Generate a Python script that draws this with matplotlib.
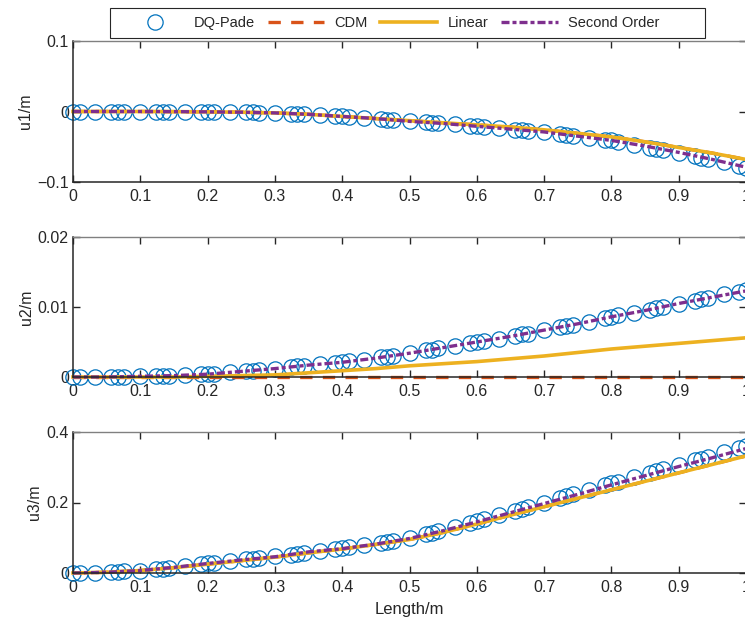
import numpy as np
import matplotlib
matplotlib.use("Agg")
import matplotlib.pyplot as plt
from matplotlib.lines import Line2D
from matplotlib.patches import Rectangle
from matplotlib.ticker import FuncFormatter

plt.rcParams["font.family"] = ["Liberation Sans", "DejaVu Sans"]
plt.rcParams["font.size"] = 11.5

# DQ-Pade nodes (15 elements)
x_dq = [0.000, 0.010, 0.033, 0.057, 0.067, 0.076, 0.100, 0.124, 0.133, 0.143,
        0.167, 0.190, 0.200, 0.210, 0.233, 0.257, 0.267, 0.276, 0.300, 0.324,
        0.333, 0.343, 0.367, 0.390, 0.400, 0.410, 0.433, 0.457, 0.467, 0.476,
        0.500, 0.524, 0.533, 0.543, 0.567, 0.590, 0.600, 0.610, 0.633, 0.657,
        0.667, 0.676, 0.700, 0.724, 0.733, 0.743, 0.767, 0.790, 0.800, 0.810,
        0.833, 0.857, 0.867, 0.876, 0.900, 0.924, 0.933, 0.943, 0.967, 0.990,
        1.000]

u1_dq = [0, 0, 0, 0, 0, 0, 0, -0.0001, -0.0001, -0.0002,
         -0.0003, -0.0004, -0.0005, -0.0006, -0.0008, -0.0011, -0.0013, -0.0015, -0.002, -0.003,
         -0.0033, -0.0036, -0.0048, -0.0064, -0.007, -0.0076, -0.009, -0.0106, -0.0114, -0.0121,
         -0.014, -0.0154, -0.016, -0.0166, -0.0184, -0.0202, -0.021, -0.0218, -0.0236, -0.0256,
         -0.0264, -0.0271, -0.029, -0.0319, -0.033, -0.0342, -0.037, -0.0398, -0.041, -0.0428,
         -0.0469, -0.0513, -0.0531, -0.0547, -0.059, -0.0638, -0.0655, -0.0675, -0.0723, -0.0778,
         -0.080]

u2_dq = [0, 0, 0, 0, 0.00003, 0.00004, 0.0001, 0.00013, 0.00015, 0.00017,
         0.00025, 0.00036, 0.0004, 0.00047, 0.00065, 0.00085, 0.00092, 0.001, 0.0012, 0.00145,
         0.00153, 0.00163, 0.00183, 0.00202, 0.0021, 0.00222, 0.0025, 0.0028, 0.00292, 0.00305,
         0.0034, 0.0038, 0.0039, 0.0041, 0.00447, 0.00485, 0.005, 0.00516, 0.0055, 0.0059,
         0.0061, 0.0062, 0.0067, 0.0071, 0.0073, 0.0074, 0.0079, 0.0084, 0.0086, 0.0088,
         0.0092, 0.0096, 0.0098, 0.0100, 0.0105, 0.0109, 0.0111, 0.0113, 0.0118, 0.0122,
         0.0124]

u3_dq = [0, 0.0001, 0.001, 0.0025, 0.0035, 0.0045, 0.007, 0.011, 0.0125, 0.0145,
         0.0195, 0.0248, 0.027, 0.029, 0.0337, 0.0385, 0.0405, 0.0423, 0.047, 0.0522,
         0.0542, 0.0564, 0.0618, 0.0673, 0.070, 0.0724, 0.0786, 0.0852, 0.0882, 0.0911,
         0.099, 0.1093, 0.1135, 0.1182, 0.1302, 0.1418, 0.147, 0.1522, 0.1643, 0.1770,
         0.1822, 0.187, 0.200, 0.213, 0.2178, 0.2232, 0.2362, 0.2486, 0.254, 0.2592,
         0.2712, 0.2838, 0.289, 0.2939, 0.307, 0.3197, 0.3245, 0.3298, 0.3425, 0.3547,
         0.360]

# line solutions
x_line = [0, 0.05, 0.1, 0.15, 0.2, 0.25, 0.3, 0.35, 0.4, 0.45, 0.5,
          0.55, 0.6, 0.65, 0.7, 0.75, 0.8, 0.85, 0.9, 0.95, 1.0]

u1_cdm = [0, 0, 0, -0.0002, -0.0005, -0.001, -0.002, -0.004, -0.007, -0.010, -0.013,
          -0.016, -0.019, -0.022, -0.026, -0.031, -0.036, -0.043, -0.051, -0.059, -0.068]
u1_linear = [0, 0, 0, -0.0002, -0.0005, -0.001, -0.002, -0.004, -0.007, -0.010, -0.013,
             -0.016, -0.019, -0.022, -0.026, -0.031, -0.036, -0.043, -0.051, -0.059, -0.068]
u1_second = [0, 0, 0, -0.0002, -0.0005, -0.001, -0.002, -0.004, -0.007, -0.010, -0.014,
             -0.017, -0.021, -0.025, -0.029, -0.035, -0.041, -0.049, -0.058, -0.068, -0.079]

u2_cdm = [0, 0, 0, 0, 0, 0, 0, 0, 0, 0, 0,
          0, 0, 0, 0, 0, 0, 0, 0, 0, 0]
u2_linear = [0, 0, 0, 0, 0.0001, 0.0002, 0.0003, 0.0006, 0.0009, 0.0012, 0.0016,
             0.0019, 0.0022, 0.0026, 0.0030, 0.0035, 0.0040, 0.0044, 0.0048, 0.0052, 0.0056]
u2_second = [0, 0, 0.0001, 0.0002, 0.0004, 0.0008, 0.0012, 0.0017, 0.0021, 0.0027, 0.0034,
             0.0042, 0.0050, 0.0058, 0.0067, 0.0076, 0.0086, 0.0095, 0.0105, 0.0114, 0.0123]

u3_cdm = [0, 0.002, 0.007, 0.015, 0.025, 0.035, 0.045, 0.057, 0.068, 0.081, 0.095,
          0.115, 0.139, 0.164, 0.188, 0.212, 0.236, 0.260, 0.284, 0.308, 0.332]
u3_linear = [0, 0.002, 0.007, 0.015, 0.025, 0.035, 0.045, 0.057, 0.068, 0.081, 0.095,
             0.115, 0.139, 0.164, 0.188, 0.212, 0.236, 0.260, 0.284, 0.308, 0.332]
u3_second = [0, 0.002, 0.007, 0.016, 0.027, 0.037, 0.046, 0.060, 0.069, 0.082, 0.098,
             0.120, 0.145, 0.171, 0.197, 0.223, 0.250, 0.276, 0.302, 0.327, 0.353]

ylabels = ["u1/m", "u2/m", "u3/m"]
ylims = [(-0.1, 0.1), (0, 0.02), (0, 0.4)]
yticks = [[-0.1, 0, 0.1], [0, 0.01, 0.02], [0, 0.2, 0.4]]
xticks = [0, 0.1, 0.2, 0.3, 0.4, 0.5, 0.6, 0.7, 0.8, 0.9, 1]

blue = "#0072BD"
orange = "#D95319"
yellow = "#EDB120"
purple = "#7E2F8E"
dark = "#262626"

dq_data = [u1_dq, u2_dq, u3_dq]
cdm_data = [u1_cdm, u2_cdm, u3_cdm]
lin_data = [u1_linear, u2_linear, u3_linear]
sec_data = [u1_second, u2_second, u3_second]

# axes boxes in pixels (left, top, right, bottom)
W, H = 745, 620
boxes = [(73, 41, 746, 182), (73, 237, 746, 377), (73, 432, 746, 573)]

fmt = FuncFormatter(lambda v, p: ("%g" % round(v, 6)).replace("-", "\u2212"))

fig = plt.figure(figsize=(W / 100, H / 100), dpi=100)

for i in range(3):
    l, t, r, b = boxes[i]
    ax = fig.add_axes([l / W, 1 - b / H, (r - l) / W, (b - t) / H])
    ax.plot(x_dq, dq_data[i], "o", mfc="none", mec=blue, ms=11, mew=0.9, clip_on=False)
    ax.plot(x_line, cdm_data[i], color=orange, lw=2.4, dashes=(3.7, 3.1),
            dash_capstyle="butt", clip_on=False)
    ax.plot(x_line, lin_data[i], color=yellow, lw=2.6, clip_on=False)
    ax.plot(x_line, sec_data[i], color=purple, lw=2.4, dashes=(2.4, 0.9, 1.2, 0.9),
            dash_capstyle="butt", clip_on=False)

    ax.set_xlim(0, 1)
    ax.set_ylim(*ylims[i])
    ax.set_xticks(xticks)
    ax.set_yticks(yticks[i])
    ax.xaxis.set_major_formatter(fmt)
    ax.yaxis.set_major_formatter(fmt)
    ax.tick_params(direction="in", length=5, width=1, top=True, right=True,
                   colors=dark, labelsize=11.5)
    ax.tick_params(axis="x", pad=5)
    ax.tick_params(axis="y", pad=3)
    for side in ["top", "right"]:
        ax.spines[side].set_color("#808080")
        ax.spines[side].set_linewidth(1.0)
    for side in ["left", "bottom"]:
        ax.spines[side].set_color(dark)
        ax.spines[side].set_linewidth(1.1)
    ax.set_ylabel(ylabels[i], color=dark, fontsize=11.5, labelpad=3)
    if i == 2:
        ax.set_xlabel("Length/m", color=dark, fontsize=12, labelpad=5)

# legend box, MATLAB style with extra room on the right
fig.patches.append(Rectangle((110 / W, 1 - 38 / H), 595 / W, 30 / H, transform=fig.transFigure,
                             fill=False, ec=dark, lw=0.8))
handles = [
    Line2D([], [], ls="none", marker="o", mfc="none", mec=blue, ms=11, mew=0.9),
    Line2D([], [], color=orange, lw=2.4, dashes=(3.7, 3.1), dash_capstyle="butt"),
    Line2D([], [], color=yellow, lw=2.6),
    Line2D([], [], color=purple, lw=2.4, dashes=(2.4, 0.9, 1.2, 0.9), dash_capstyle="butt"),
]
labels = ["DQ-Pade", "CDM", "Linear", "Second Order"]
leg = fig.legend(handles, labels, loc="center left", bbox_to_anchor=(127 / W, 1 - 23 / H),
                 ncol=4, frameon=False, handlelength=3.9, handletextpad=0.7,
                 columnspacing=0.85, borderpad=0, borderaxespad=0, fontsize=10.5)
for txt in leg.get_texts():
    txt.set_color(dark)

fig.savefig("out.png", dpi=100)
